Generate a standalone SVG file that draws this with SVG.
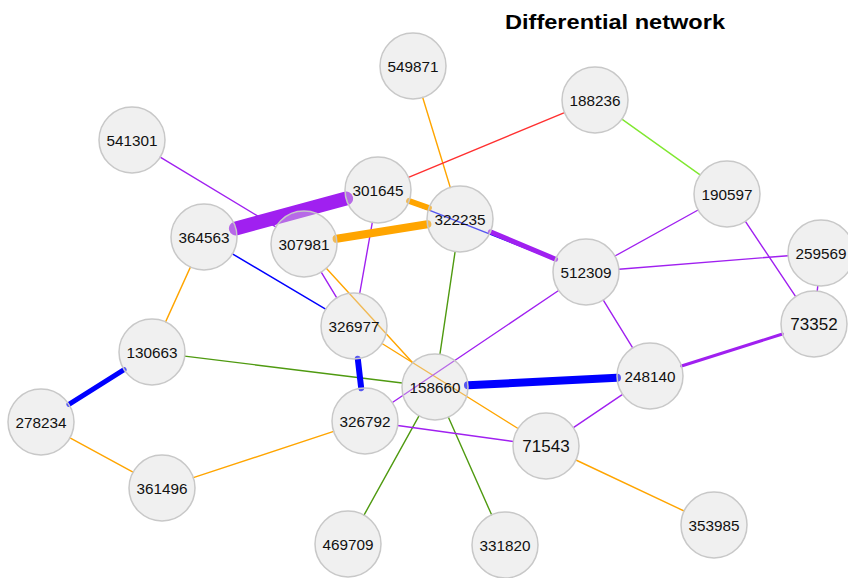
<svg xmlns="http://www.w3.org/2000/svg" width="848" height="578" viewBox="0 0 848 578">
<style>
.e{fill:none;stroke-linecap:round;stroke-width:1.4}
.pu{stroke:#a020f0}.or{stroke:#ffa500}.bl{stroke:#0000ff}.rd{stroke:#ff3030}.gr{stroke:#4f9a10}.lg{stroke:#80e830}
.n circle{fill:#dadada;fill-opacity:0.4;stroke:#c8c8c8;stroke-width:1.5}
.n text{font-family:"Liberation Sans",Arial,sans-serif;fill:#111;text-anchor:middle}
.s6{font-size:15.3px}.s5{font-size:17px}
.title{font-family:"Liberation Sans",Arial,sans-serif;font-weight:bold;font-size:20px;fill:#000}
</style>
<rect width="848" height="578" fill="#fff"/>
<text class="title" x="505" y="29.3" textLength="220" lengthAdjust="spacingAndGlyphs">Differential network</text>
<g id="edges">
<line class="e or" x1="422.7" y1="97.5" x2="450.3" y2="187.5"/>
<line class="e rd" x1="564.5" y1="112.6" x2="408.5" y2="177.4"/>
<line class="e lg" x1="621.9" y1="119.1" x2="700.1" y2="174.9"/>
<line class="e pu" x1="160.2" y1="157.1" x2="275.8" y2="226.9"/>
<line class="e bl" x1="408.7" y1="202.1" x2="555.3" y2="259.9"/>
<line class="e pu" x1="372.3" y1="222.5" x2="359.7" y2="293.5"/>
<line class="e bl" x1="232.4" y1="253.8" x2="325.6" y2="309.2"/>
<line class="e or" x1="190.4" y1="267.1" x2="165.6" y2="321.9"/>
<line class="e pu" x1="321.2" y1="272.2" x2="336.8" y2="297.8"/>
<line class="e or" x1="326.3" y1="268.3" x2="412.7" y2="362.7"/>
<line class="e or" x1="382" y1="343.5" x2="518" y2="428.5"/>
<line class="e gr" x1="455.1" y1="251.6" x2="439.9" y2="354.4"/>
<line class="e gr" x1="184.7" y1="356.1" x2="402.2" y2="383"/>
<line class="e or" x1="70" y1="437.8" x2="133" y2="472.2"/>
<line class="e or" x1="193.3" y1="477.7" x2="333.7" y2="431.3"/>
<line class="e gr" x1="419" y1="415.9" x2="364" y2="515.1"/>
<line class="e gr" x1="448.4" y1="417.2" x2="491.6" y2="514.8"/>
<line class="e pu" x1="392.4" y1="402.5" x2="558.6" y2="290.5"/>
<line class="e pu" x1="397.7" y1="425.5" x2="513.3" y2="441.5"/>
<line class="e pu" x1="573.4" y1="427.6" x2="622.6" y2="394.4"/>
<line class="e or" x1="575.9" y1="460" x2="684.1" y2="511"/>
<line class="e pu" x1="614.9" y1="256" x2="698.1" y2="210"/>
<line class="e pu" x1="618.9" y1="269.3" x2="788.1" y2="255.7"/>
<line class="e pu" x1="603.3" y1="300.1" x2="632.7" y2="347.9"/>
<line class="e pu" x1="745.4" y1="221.4" x2="795.7" y2="296.6"/>
<line class="e pu" x1="817.8" y1="285.8" x2="817.2" y2="291.2"/>
<line class="e pu" x1="681.5" y1="366" x2="782.5" y2="334" style="stroke-width:3"/>
<line class="e pu" x1="490.4" y1="231.8" x2="555.6" y2="259.2" style="stroke-width:5"/>
<line class="e bl" x1="124.1" y1="369.6" x2="68.9" y2="404.4" style="stroke-width:5"/>
<line class="e bl" x1="357.8" y1="358.8" x2="361.2" y2="388.2" style="stroke-width:6"/>
<line class="e bl" x1="468" y1="385.3" x2="617" y2="377.7" style="stroke-width:8"/>
<line class="e or" x1="409.1" y1="201" x2="428.9" y2="208" style="stroke-width:6"/>
<line class="e or" x1="336.6" y1="238.8" x2="427.4" y2="224.2" style="stroke-width:8"/>
<line class="e pu" x1="235.9" y1="228.4" x2="346.1" y2="198.6" style="stroke-width:14"/>
</g>
<g id="n549871" class="n"><circle cx="413" cy="66" r="33"/><text class="s6" x="413" y="71.5">549871</text></g>
<g id="n188236" class="n"><circle cx="595" cy="100" r="33"/><text class="s6" x="595" y="105.5">188236</text></g>
<g id="n541301" class="n"><circle cx="132" cy="140" r="33"/><text class="s6" x="132" y="145.5">541301</text></g>
<g id="n301645" class="n"><circle cx="378" cy="190" r="33"/><text class="s6" x="378" y="195.5">301645</text></g>
<g id="n322235" class="n"><circle cx="460" cy="219" r="33"/><text class="s6" x="460" y="224.5">322235</text></g>
<g id="n190597" class="n"><circle cx="727" cy="194" r="33"/><text class="s6" x="727" y="199.5">190597</text></g>
<g id="n364563" class="n"><circle cx="204" cy="237" r="33"/><text class="s6" x="204" y="242.5">364563</text></g>
<g id="n307981" class="n"><circle cx="304" cy="244" r="33"/><text class="s6" x="304" y="249.5">307981</text></g>
<g id="n512309" class="n"><circle cx="586" cy="272" r="33"/><text class="s6" x="586" y="277.5">512309</text></g>
<g id="n259569" class="n"><circle cx="821" cy="253" r="33"/><text class="s6" x="821" y="258.5">259569</text></g>
<g id="n73352" class="n"><circle cx="814" cy="324" r="33"/><text class="s5" x="814" y="330">73352</text></g>
<g id="n326977" class="n"><circle cx="354" cy="326" r="33"/><text class="s6" x="354" y="331.5">326977</text></g>
<g id="n130663" class="n"><circle cx="152" cy="352" r="33"/><text class="s6" x="152" y="357.5">130663</text></g>
<g id="n248140" class="n"><circle cx="650" cy="376" r="33"/><text class="s6" x="650" y="381.5">248140</text></g>
<g id="n158660" class="n"><circle cx="435" cy="387" r="33"/><text class="s6" x="435" y="392.5">158660</text></g>
<g id="n326792" class="n"><circle cx="365" cy="421" r="33"/><text class="s6" x="365" y="426.5">326792</text></g>
<g id="n278234" class="n"><circle cx="41" cy="422" r="33"/><text class="s6" x="41" y="427.5">278234</text></g>
<g id="n71543" class="n"><circle cx="546" cy="446" r="33"/><text class="s5" x="546" y="452">71543</text></g>
<g id="n361496" class="n"><circle cx="162" cy="488" r="33"/><text class="s6" x="162" y="493.5">361496</text></g>
<g id="n353985" class="n"><circle cx="714" cy="525" r="33"/><text class="s6" x="714" y="530.5">353985</text></g>
<g id="n469709" class="n"><circle cx="348" cy="544" r="33"/><text class="s6" x="348" y="549.5">469709</text></g>
<g id="n331820" class="n"><circle cx="505" cy="545" r="33"/><text class="s6" x="505" y="550.5">331820</text></g>
</svg>
